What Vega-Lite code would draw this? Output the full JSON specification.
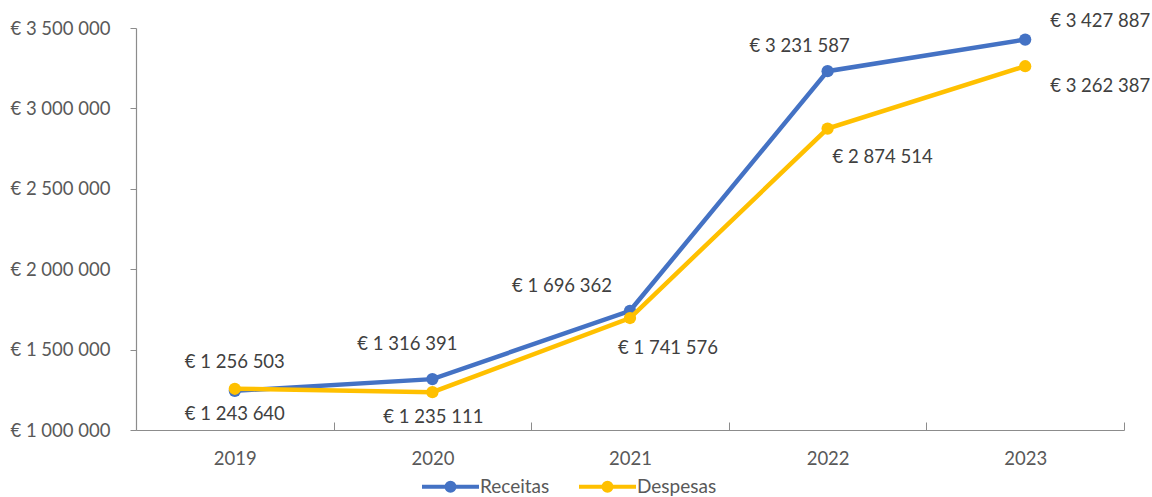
{
  "$schema": "https://vega.github.io/schema/vega-lite/v6.json",
  "width": 988,
  "height": 402,
  "autosize": {"type": "none"},
  "padding": {"left": 136, "top": 28, "right": 28, "bottom": 67},
  "config": {
    "locale": {"number": {"decimal": ",", "thousands": " ", "grouping": [3], "currency": ["€ ", ""]}},
    "view": {"stroke": null},
    "font": "Lato",
    "axis": {"labelFont": "Lato", "labelColor": "#595959", "domainColor": "#8c8c8c", "tickColor": "#8c8c8c", "grid": false, "title": null},
    "legend": {"labelFont": "Lato"}
  },
  "data": {
    "values": [
      {"year": "2019", "series": "Receitas", "value": 1243640},
      {"year": "2020", "series": "Receitas", "value": 1316391},
      {"year": "2021", "series": "Receitas", "value": 1741576},
      {"year": "2022", "series": "Receitas", "value": 3231587},
      {"year": "2023", "series": "Receitas", "value": 3427887},
      {"year": "2019", "series": "Despesas", "value": 1256503},
      {"year": "2020", "series": "Despesas", "value": 1235111},
      {"year": "2021", "series": "Despesas", "value": 1696362},
      {"year": "2022", "series": "Despesas", "value": 2874514},
      {"year": "2023", "series": "Despesas", "value": 3262387}
    ]
  },
  "encoding": {
    "x": {
      "field": "year", "type": "ordinal",
      "scale": {"type": "band", "paddingInner": 0, "paddingOuter": 0},
      "axis": {"labelAngle": 0, "tickBand": "extent", "tickSize": -8, "labelPadding": 27, "labelFontSize": 18.5, "domainWidth": 1.2}
    },
    "y": {
      "field": "value", "type": "quantitative",
      "scale": {"domain": [1000000, 3500000], "nice": false, "zero": false},
      "axis": {"values": [1000000, 1500000, 2000000, 2500000, 3000000, 3500000], "format": "$,.0f", "tickSize": 6, "labelPadding": 20, "labelFontSize": 18.5, "domainWidth": 1.2}
    }
  },
  "layer": [
    {
      "transform": [{"filter": "datum.series == 'Receitas'"}],
      "mark": {"type": "line", "strokeWidth": 4.5, "point": {"filled": true, "size": 150, "opacity": 1}},
      "encoding": {
        "color": {
          "field": "series", "type": "nominal",
          "scale": {"domain": ["Receitas", "Despesas"], "range": ["#4472C4", "#FFC000"]},
          "legend": {
            "title": null, "orient": "none", "direction": "horizontal",
            "legendX": 303, "legendY": 447,
            "padding": 0,
            "symbolType": "M-3,0H3M0.42,0A0.42,0.42,0,1,1,-0.42,0A0.42,0.42,0,1,1,0.42,0",
            "symbolSize": 361, "symbolStrokeWidth": 4,
            "labelFontSize": 19, "labelColor": "#595959", "labelOffset": 18,
            "columnPadding": 21,
            "encode": {"symbols": {"update": {"fill": {"scale": "color", "field": "value"}, "stroke": {"scale": "color", "field": "value"}, "opacity": {"value": 1}}}}
          }
        }
      }
    },
    {
      "transform": [{"filter": "datum.series == 'Despesas'"}],
      "mark": {"type": "line", "strokeWidth": 4.5, "point": {"filled": true, "size": 150, "opacity": 1}},
      "encoding": {"color": {"field": "series", "type": "nominal"}}
    },
    {"transform": [{"filter": "datum.year == '2019' && datum.series == 'Receitas'"}], "mark": {"type": "text", "dx": 0, "dy": 23, "fontSize": 18.5, "color": "#404040"}, "encoding": {"text": {"field": "value", "type": "quantitative", "format": "$,.0f"}}},
    {"transform": [{"filter": "datum.year == '2019' && datum.series == 'Despesas'"}], "mark": {"type": "text", "dx": 0, "dy": -27, "fontSize": 18.5, "color": "#404040"}, "encoding": {"text": {"field": "value", "type": "quantitative", "format": "$,.0f"}}},
    {"transform": [{"filter": "datum.year == '2020' && datum.series == 'Receitas'"}], "mark": {"type": "text", "dx": -25, "dy": -35, "fontSize": 18.5, "color": "#404040"}, "encoding": {"text": {"field": "value", "type": "quantitative", "format": "$,.0f"}}},
    {"transform": [{"filter": "datum.year == '2020' && datum.series == 'Despesas'"}], "mark": {"type": "text", "dx": 1, "dy": 25, "fontSize": 18.5, "color": "#404040"}, "encoding": {"text": {"field": "value", "type": "quantitative", "format": "$,.0f"}}},
    {"transform": [{"filter": "datum.year == '2021' && datum.series == 'Despesas'"}], "mark": {"type": "text", "dx": -68, "dy": -32, "fontSize": 18.5, "color": "#404040"}, "encoding": {"text": {"field": "value", "type": "quantitative", "format": "$,.0f"}}},
    {"transform": [{"filter": "datum.year == '2021' && datum.series == 'Receitas'"}], "mark": {"type": "text", "dx": 38, "dy": 37, "fontSize": 18.5, "color": "#404040"}, "encoding": {"text": {"field": "value", "type": "quantitative", "format": "$,.0f"}}},
    {"transform": [{"filter": "datum.year == '2022' && datum.series == 'Receitas'"}], "mark": {"type": "text", "dx": -28, "dy": -25, "fontSize": 18.5, "color": "#404040"}, "encoding": {"text": {"field": "value", "type": "quantitative", "format": "$,.0f"}}},
    {"transform": [{"filter": "datum.year == '2022' && datum.series == 'Despesas'"}], "mark": {"type": "text", "dx": 55, "dy": 28, "fontSize": 18.5, "color": "#404040"}, "encoding": {"text": {"field": "value", "type": "quantitative", "format": "$,.0f"}}},
    {"transform": [{"filter": "datum.year == '2023' && datum.series == 'Receitas'"}], "mark": {"type": "text", "dx": 75, "dy": -19, "fontSize": 18.5, "color": "#404040"}, "encoding": {"text": {"field": "value", "type": "quantitative", "format": "$,.0f"}}},
    {"transform": [{"filter": "datum.year == '2023' && datum.series == 'Despesas'"}], "mark": {"type": "text", "dx": 75, "dy": 20, "fontSize": 18.5, "color": "#404040"}, "encoding": {"text": {"field": "value", "type": "quantitative", "format": "$,.0f"}}}
  ]
}
